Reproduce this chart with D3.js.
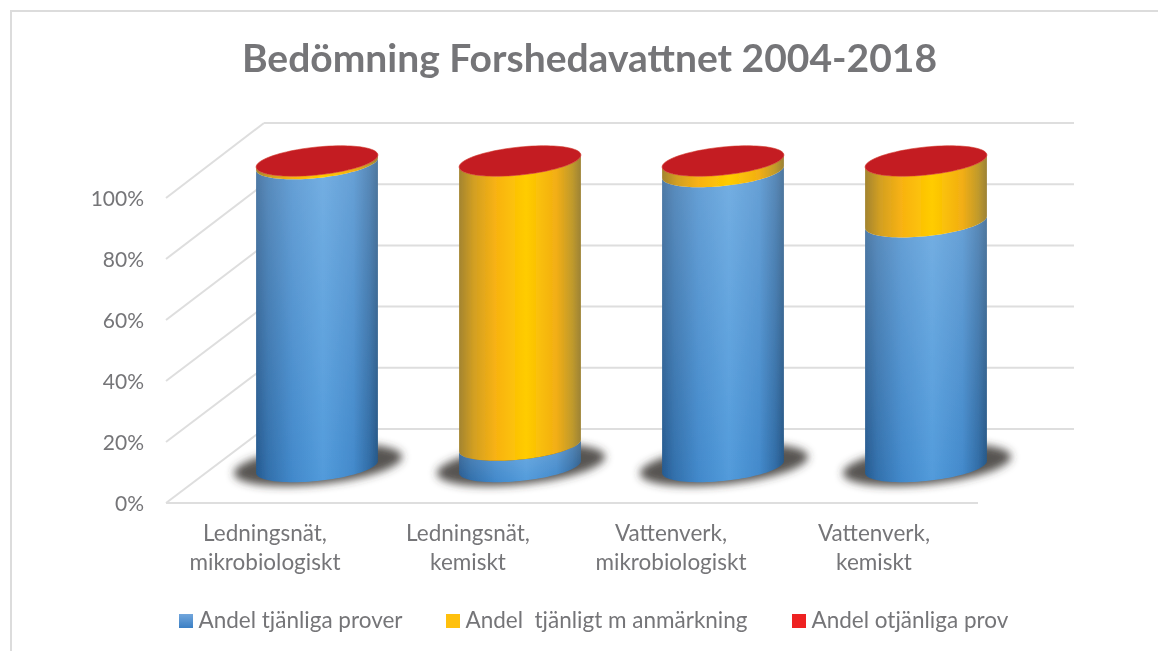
<!DOCTYPE html>
<html>
<head>
<meta charset="utf-8">
<script src="https://cdn.jsdelivr.net/npm/d3@7"></script>
<style>
  body { margin: 0; background: #fff; }
  text { font-family: Lato, "Open Sans", sans-serif; fill: #757578; white-space: pre; }
</style>
</head>
<body>
<div id="chart"></div>
<script>
const categories = ["Ledningsnät, mikrobiologiskt", "Ledningsnät, kemiskt", "Vattenverk, mikrobiologiskt", "Vattenverk, kemiskt"];
const tjanliga = [99, 7, 96.4, 80];
const anmarkning = [1, 93, 3.6, 20];
const otjanliga = [0, 0, 0, 0];
const seriesKeys = ["tjanliga", "anmarkning", "otjanliga"];
const seriesNames = ["Andel tjänliga prover", "Andel  tjänligt m anmärkning", "Andel otjänliga prov"];
const tickValues = [0, 20, 40, 60, 80, 100];

const width = 1158, height = 651;
const svg = d3.select("#chart").append("svg")
  .attr("width", width).attr("height", height)
  .style("display", "block");
const defs = svg.append("defs");

// Gradients for the round look of the cylinders
function sideGradient(id, stops) {
  const g = defs.append("linearGradient").attr("id", id);
  stops.forEach(s => g.append("stop").attr("offset", s[0]).attr("stop-color", s[1]));
}
sideGradient("grad-tjanliga", [[0, "#255a90"], [0.1, "#3270ac"], [0.3, "#4289cb"], [0.55, "#529bdb"], [0.8, "#4289cb"], [0.93, "#306ca6"], [1, "#245686"]]);
sideGradient("grad-anmarkning", [[0, "#a38430"], [0.12, "#d29f22"], [0.3, "#f8b212"], [0.55, "#ffcc00"], [0.8, "#f2ae14"], [0.93, "#c09a2c"], [1, "#9c8235"]]);

const fade = defs.append("linearGradient").attr("id", "grad-fade")
  .attr("x1", 0).attr("x2", 0).attr("y1", 0).attr("y2", 1)
  .attr("gradientUnits", "objectBoundingBox");
fade.append("stop").attr("offset", 0).attr("stop-color", "#fff").attr("stop-opacity", 0.2);
fade.append("stop").attr("offset", 1).attr("stop-color", "#fff").attr("stop-opacity", 0);

const swatch = defs.append("linearGradient").attr("id", "grad-swatch")
  .attr("x1", 0).attr("x2", 0).attr("y1", 0).attr("y2", 1);
swatch.append("stop").attr("offset", 0).attr("stop-color", "#71a6dc");
swatch.append("stop").attr("offset", 1).attr("stop-color", "#3b7fc4");

defs.append("filter").attr("id", "shadow-blur")
  .attr("x", "-20%").attr("y", "-50%").attr("width", "140%").attr("height", "200%")
  .append("feGaussianBlur").attr("stdDeviation", 4);

// the reference is a slightly soft raster
defs.append("filter").attr("id", "soft")
  .attr("filterUnits", "userSpaceOnUse")
  .attr("x", 0).attr("y", 0).attr("width", width).attr("height", height)
  .append("feGaussianBlur").attr("stdDeviation", 0.45);

const root = svg.append("g").attr("filter", "url(#soft)");
root.append("rect").attr("width", width).attr("height", height).attr("fill", "#fff");

// Chart frame, only the left and top edges show in the picture
root.append("path").attr("d", d3.line()([[11, height], [11, 11], [width, 11]]))
  .attr("fill", "none").attr("stroke", "#dcdcdc").attr("stroke-width", 2);

root.append("text").attr("x", 589.5).attr("y", 72)
  .attr("text-anchor", "middle").attr("font-size", 39).attr("font-weight", 700)
  .text("Bedömning Forshedavattnet 2004-2018");

// Scales: front plane for labels, back wall for grid, centre line for cylinders
const yFront = d3.scaleLinear().domain([0, 100]).range([503, 198]);
const yBack = d3.scaleLinear().domain([0, 100]).range([429, 123]);
const yCyl = d3.scaleLinear().domain([0, 100]).range([467, 161]);
const xFront = d3.scaleBand().domain(categories).range([163.5, 975.5]);
const xCyl = d3.scaleBand().domain(categories).range([215.5, 1027.5]);

// Grid
const grid = root.append("g").attr("stroke", "#dedede").attr("stroke-width", 2).attr("fill", "none");
tickValues.forEach(v => {
  grid.append("line").attr("x1", 264).attr("x2", 1074).attr("y1", yBack(v)).attr("y2", yBack(v));
  grid.append("line").attr("x1", 166).attr("x2", 264).attr("y1", yFront(v)).attr("y2", yBack(v));
});
grid.append("line").attr("x1", 166).attr("x2", 978).attr("y1", yFront(0)).attr("y2", yFront(0));

// Axes
const yAxis = root.append("g").attr("transform", "translate(144,1)")
  .call(d3.axisLeft(yFront).tickValues(tickValues).tickSize(0).tickPadding(0).tickFormat(d => d + "%"));
yAxis.select(".domain").remove();
yAxis.selectAll("text").attr("font-size", 21);

const xAxis = root.append("g").attr("transform", "translate(0,541)")
  .call(d3.axisBottom(xFront).tickSize(0).tickPadding(0));
xAxis.select(".domain").remove();
xAxis.selectAll("text").each(function (d) {
  const parts = d.split(", ");
  const t = d3.select(this).text(null).attr("font-size", 22.5).attr("y", 0).attr("dy", 0);
  t.append("tspan").attr("x", 0).attr("dy", 0).text(parts[0] + ",");
  t.append("tspan").attr("x", 0).attr("dy", 29).text(parts[1]);
});

// Cylinders
const rx = xCyl.bandwidth() * 0.3, ry = 14, tilt = 6;
const curve = d3.line();
const angle = d3.scaleLinear().domain([0, 48]).range([0, Math.PI]);
const steps = d3.range(0, 49);
// point on the tilted ellipse, t in radians, around centre cx,cy with a given size factor
const ellipsePoint = (cx, cy, t, k = 1) => [
  cx + k * rx * Math.cos(t),
  cy + k * ry * Math.sin(t) - k * tilt * Math.cos(t)
];
const ring = (cx, cy, k = 1) => curve(d3.range(0, 97).map(i => ellipsePoint(cx, cy, angle(i), k))) + "Z";
const band = (cx, cyLow, cyHigh) => {
  const low = steps.map(i => ellipsePoint(cx, cyLow, angle(i)));
  const high = steps.map(i => ellipsePoint(cx, cyHigh, angle(i))).reverse();
  return curve(low.concat(high)) + "Z";
};

const rows = categories.map((c, i) => ({ category: c, tjanliga: tjanliga[i], anmarkning: anmarkning[i], otjanliga: otjanliga[i] }));
const stacked = d3.stack().keys(seriesKeys)(rows);
const center = c => xCyl(c) + xCyl.bandwidth() / 2;

root.append("g").attr("filter", "url(#shadow-blur)")
  .selectAll("path").data(categories).join("path")
  .attr("d", c => ring(center(c) + 1, yCyl(0) - 2, 1.38))
  .attr("fill", "#3a3634").attr("opacity", 0.85);

const cylinders = root.append("g");
stacked.slice(0, 2).forEach(s => {
  const segs = s.filter(d => d[1] > d[0]);
  cylinders.append("g").selectAll("path").data(segs).join("path")
    .attr("d", d => band(center(d.data.category), yCyl(d[0]), yCyl(d[1])))
    .attr("fill", `url(#grad-${s.key})`);
  if (s.key === "tjanliga") {
    // blue gets lighter towards the top
    cylinders.append("g").selectAll("path").data(segs).join("path")
      .attr("d", d => band(center(d.data.category), yCyl(d[0]), yCyl(d[1])))
      .attr("fill", "url(#grad-fade)");
  }
});

// Red lid at the 100% level
cylinders.append("g").selectAll("path").data(stacked[2]).join("path")
  .attr("d", d => ring(center(d.data.category), yCyl(d[1])))
  .attr("fill", "#c41e22").attr("stroke", "#d0342a").attr("stroke-width", 0.6);

// Legend
const legendX = [179, 446, 792];
const legendFill = ["url(#grad-swatch)", "#ffc00c", "#ee2024"];
const legend = root.append("g").selectAll("g").data(seriesNames).join("g")
  .attr("transform", (d, i) => `translate(${legendX[i]},614)`);
legend.append("rect").attr("width", 14).attr("height", 14).attr("fill", (d, i) => legendFill[i]);
legend.append("text").attr("x", 19.5).attr("y", 14).attr("font-size", 22.5).text(d => d);
</script>
</body>
</html>
